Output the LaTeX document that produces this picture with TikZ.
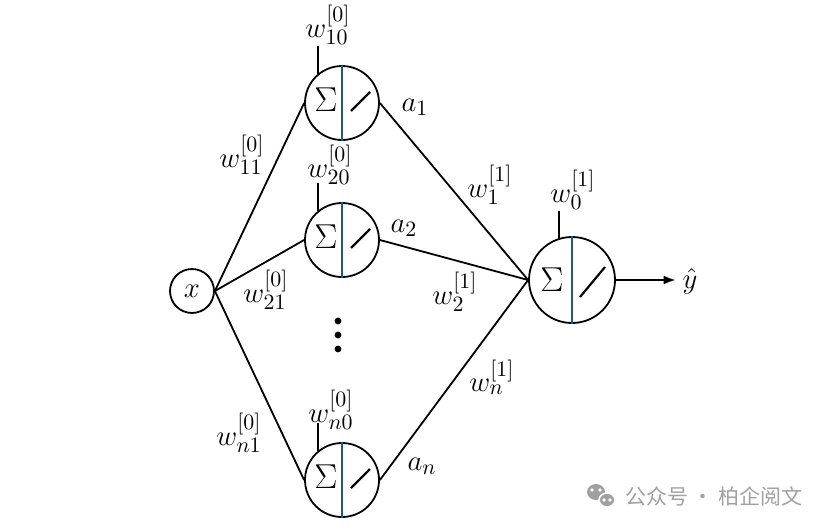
\documentclass[tikz,border=0pt]{standalone}
\usepackage{fontspec}
\newfontfamily\cjk{Noto Sans CJK SC}
\usetikzlibrary{arrows.meta}
\definecolor{azulsep}{HTML}{1F5A7A}
\definecolor{grismarca}{HTML}{A0A0A0}
\begin{document}
\begin{tikzpicture}[x=0.5pt, y=-0.5pt,
		every node/.style={font=\fontsize{15.5}{18}\selectfont},
		entrada/.style={circle, draw, line width=0.9pt, minimum size=22pt, inner sep=0pt},
		neurona/.style={circle, draw, line width=0.9pt, minimum size=#1, inner sep=0pt},
		arista/.style={draw=black, line width=0.9pt},
		divisor/.style={draw=azulsep, line width=0.8pt},
		rampa/.style={draw=black, line width=1.1pt},
		peso/.style={inner sep=1pt}]
	\useasboundingbox (0,0) rectangle (828,530);
	\node[entrada] (x) at (192,291) {$x$};
	\node[neurona=37pt] (h1) at (342,103) {};
	\node[neurona=37pt] (h2) at (342,240) {};
	\node[neurona=37pt] (hn) at (342,480) {};
	\node[neurona=43pt] (o) at (572,280) {};
	\node (yhat) at (690,281) {$\hat{y}$};
	% sumador y activacion de cada neurona oculta
	\foreach \n in {h1,h2,hn} {
		\draw[divisor] (\n.north) -- (\n.south);
		\node[font=\fontsize{16.5}{19}\selectfont] at ([shift={(-16,-3)}]\n.center) {$\Sigma$};
		\draw[rampa] ([shift={(9,8)}]\n.center) -- ([shift={(28,-11)}]\n.center);
		\draw[arista] (\n.130) -- ++(0,-28);
	}
	\draw[divisor] (o.north) -- (o.south);
	\node[font=\fontsize{16.5}{19}\selectfont] at ([shift={(-20,0)}]o.center) {$\Sigma$};
	\draw[rampa] ([shift={(8,17)}]o.center) -- ([shift={(33,-13)}]o.center);
	\draw[arista] (o.107) -- ++(0,-27);
	% conexiones
	\draw[arista] (x.east) -- (h1.west);
	\draw[arista] (x.east) -- (h2.west);
	\draw[arista] (x.east) -- (hn.west);
	\draw[arista] (h1.east) -- (o.west);
	\draw[arista] (h2.east) -- (o.west);
	\draw[arista] (hn.east) -- (o.west);
	\draw[arista, -{Latex[length=6pt, width=4.5pt]}] (o.east) -- (o.east -| yhat.west);
	\foreach \y in {321,335,349} \fill (338,\y) circle (1.7pt);
	% pesos
	\node[peso] (w10) at (328,25)  {$w_{10}^{[0]}$};
	\node[peso] (w11) at (242,155) {$w_{11}^{[0]}$};
	\node[peso] (w20) at (330,165) {$w_{20}^{[0]}$};
	\node[peso] (w21) at (266,290) {$w_{21}^{[0]}$};
	\node[peso] (wn0) at (331,410) {$w_{n0}^{[0]}$};
	\node[peso] (wn1) at (239,433) {$w_{n1}^{[0]}$};
	\node[peso] (a1) at (415,107) {$a_1$};
	\node[peso] (a2) at (404,228) {$a_2$};
	\node[peso] (an) at (422,466) {$a_n$};
	\node[peso] (w1) at (490,185) {$w_1^{[1]}$};
	\node[peso] (w2) at (455,292) {$w_2^{[1]}$};
	\node[peso] (wn) at (492,377) {$w_n^{[1]}$};
	\node[peso] (w0) at (573,190) {$w_0^{[1]}$};
	% marca de agua
	\fill[grismarca] (596,492) ellipse (9 and 8);
	\fill[grismarca, draw=white, line width=0.8pt] (607,500) ellipse (8 and 7);
	\foreach \p in {(592,490),(600,490),(604,500),(610,500)} \fill[white] \p circle (0.9pt);
	\node[anchor=west, text=grismarca, font=\cjk\fontsize{10.5}{12}\selectfont] (marca) at (618,496) {公众号 · 柏企阅文};
\end{tikzpicture}
\end{document}
